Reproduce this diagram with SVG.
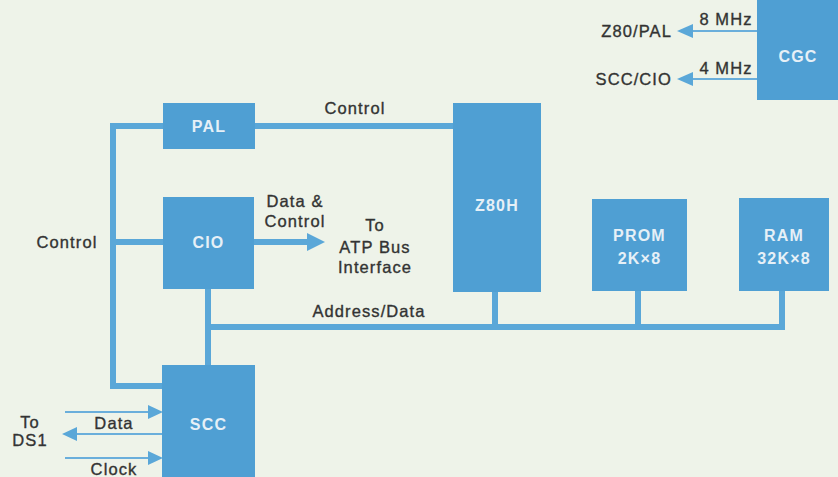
<svg xmlns="http://www.w3.org/2000/svg" width="838" height="477" viewBox="0 0 838 477">
<defs>
<style>
.box{fill:#4f9fd3}
.bus{stroke:#5aa7d8;stroke-width:6;fill:none;stroke-linecap:square}
.thin{stroke:#6aaedb;stroke-width:2;fill:none}
.head{fill:#5aa7d8}
.bl{font-family:"Liberation Sans",Arial,sans-serif;font-weight:bold;font-size:16px;fill:#e6f0f7;text-anchor:middle;letter-spacing:1.2px}
.lb{font-family:"Liberation Sans",Arial,sans-serif;font-size:16.5px;fill:#333333;stroke:#333333;stroke-width:0.35px;letter-spacing:1.1px}
.c{text-anchor:middle}
</style>
</defs>
<rect width="838" height="477" fill="#eef3e9"/>
<g id="connectors">
<polyline class="bus" points="255,126 455,126"/>
<polyline class="bus" points="163,126 113,126 113,386 163,386" stroke-linejoin="miter"/>
<polyline class="bus" points="113,242 163,242"/>
<polyline class="bus" points="254,242 309,242"/>
<polygon class="head" points="307,233 325,242 307,251"/>
<polyline class="bus" points="208,289 208,365"/>
<polyline class="bus" points="208,327 782,327"/>
<polyline class="bus" points="495,292 495,327"/>
<polyline class="bus" points="638,291 638,327"/>
<polyline class="bus" points="782,291 782,327"/>
<polyline class="thin" points="757,31 690,31"/>
<polygon class="head" points="693,24 677,31 693,38"/>
<polyline class="thin" points="757,79 690,79"/>
<polygon class="head" points="693,72 677,79 693,86"/>
<polyline class="thin" points="65,412 150,412"/>
<polygon class="head" points="148,405 163,412 148,419"/>
<polyline class="thin" points="163,434 75,434"/>
<polygon class="head" points="77,427 62,434 77,441"/>
<polyline class="thin" points="65,458 150,458"/>
<polygon class="head" points="148,451 163,458 148,465"/>
</g>
<g id="PAL"><rect class="box" x="163" y="103" width="92" height="46"/><text class="bl" x="209" y="132">PAL</text></g>
<g id="CIO"><rect class="box" x="163" y="197" width="91" height="92"/><text class="bl" x="208.5" y="248">CIO</text></g>
<g id="Z80H"><rect class="box" x="453" y="103" width="88" height="189"/><text class="bl" x="497" y="211">Z80H</text></g>
<g id="PROM"><rect class="box" x="592" y="199" width="95" height="92"/><text class="bl" x="639.5" y="241">PROM</text><text class="bl" x="639.5" y="264">2K×8</text></g>
<g id="RAM"><rect class="box" x="739" y="198" width="90" height="93"/><text class="bl" x="784" y="241">RAM</text><text class="bl" x="784" y="264">32K×8</text></g>
<g id="CGC"><rect class="box" x="757" y="0" width="81" height="100"/><text class="bl" x="798" y="62">CGC</text></g>
<g id="SCC"><rect class="box" x="162" y="365" width="93" height="112"/><text class="bl" x="208.5" y="430">SCC</text></g>
<g id="labels">
<text class="lb c" x="355" y="114">Control</text>
<text class="lb c" x="67" y="248">Control</text>
<text class="lb c" x="295" y="207">Data &amp;</text>
<text class="lb c" x="295" y="227">Control</text>
<text class="lb c" x="375" y="231">To</text>
<text class="lb c" x="375" y="253">ATP Bus</text>
<text class="lb c" x="375" y="273">Interface</text>
<text class="lb c" x="369" y="317">Address/Data</text>
<text class="lb c" x="726" y="25">8 MHz</text>
<text class="lb c" x="726" y="74">4 MHz</text>
<text class="lb" x="672" y="37" text-anchor="end">Z80/PAL</text>
<text class="lb" x="672" y="85" text-anchor="end">SCC/CIO</text>
<text class="lb c" x="30" y="428">To</text>
<text class="lb c" x="30" y="446">DS1</text>
<text class="lb c" x="114" y="429">Data</text>
<text class="lb c" x="114" y="475">Clock</text>
</g>
</svg>
